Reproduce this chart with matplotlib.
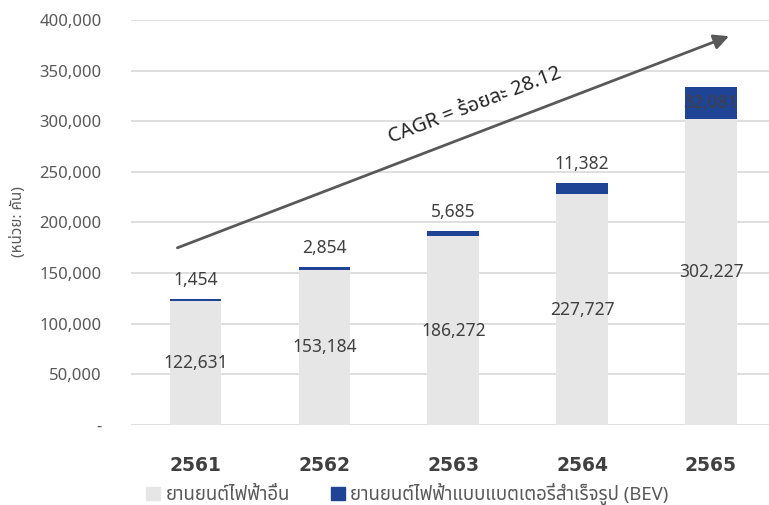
import matplotlib
matplotlib.use('Agg')
import matplotlib.pyplot as plt
from matplotlib import font_manager
from matplotlib.ticker import FuncFormatter

# ข้อมูล
years = ['2561', '2562', '2563', '2564', '2565']
other_ev = [122631, 153184, 186272, 227727, 302227]
bev = [1454, 2854, 5685, 11382, 32081]
y_ticks = [0, 50000, 100000, 150000, 200000, 250000, 300000, 350000, 400000]
cagr_text = 'CAGR = ร้อยละ 28.12'
legend_labels = ['ยานยนต์ไฟฟ้าอื่น', 'ยานยนต์ไฟฟ้าแบบแบตเตอรี่สำเร็จรูป (BEV)']
unit_label = '(หน่วย: คัน)'

# หาฟอนต์ไทยที่มีในเครื่อง
thai_candidates = ['Tahoma', 'Leelawadee UI', 'Noto Sans Thai', 'Noto Sans Thai UI',
                   'Sarabun', 'Loma', 'Garuda', 'Waree', 'Norasi', 'Kinnari', 'Laksaman']
thai_fonts = []
for name in thai_candidates:
    try:
        font_manager.findfont(name, fallback_to_default=False)
        thai_fonts.append(name)
    except Exception:
        pass
plt.rcParams['font.family'] = ['Noto Sans'] + thai_fonts + ['DejaVu Sans']

gray = '#E7E6E6'
blue = '#1F4496'
txt = '#595959'

fig = plt.figure(figsize=(7.69, 5.05), dpi=100)
ax = fig.add_axes([131 / 769, 80 / 505, 1 - 131 / 769, 405 / 505])

x = range(len(years))
ax.bar(x, other_ev, width=0.4, color=gray, zorder=2)
ax.bar(x, bev, width=0.4, bottom=other_ev, color=blue, zorder=2)

for i in x:
    ax.text(i, other_ev[i] / 2, f'{other_ev[i]:,}', ha='center', va='center',
            fontsize=12.5, color='#404040', zorder=3)
    top = other_ev[i] + bev[i]
    if i < len(years) - 1:
        ax.annotate(f'{bev[i]:,}', (i, top), xytext=(0, 19), textcoords='offset pixels',
                    ha='center', va='center', fontsize=12.5, color='#404040', zorder=3)
    else:
        ax.text(i, other_ev[i] + bev[i] / 2, f'{bev[i]:,}', ha='center', va='center',
                fontsize=12.5, color='#404040', zorder=3)

# ลูกศร CAGR
ax.annotate('', xy=(4.14, 384000), xytext=(-0.14, 175000),
            arrowprops=dict(arrowstyle='-|>,head_length=0.9,head_width=0.45',
                            color='#595959', lw=2, shrinkA=0, shrinkB=0), zorder=4)
ax.text(2.17, 316000, cagr_text, rotation=21, ha='center', va='center',
        fontsize=14.5, color='#262626', rotation_mode='anchor', zorder=4)

ax.set_xlim(-0.5, 4.45)
ax.set_ylim(0, 400000)
ax.set_yticks(y_ticks)
ax.yaxis.set_major_formatter(FuncFormatter(lambda v, p: '-' if v == 0 else f'{int(v):,}'))
ax.set_xticks(list(x))
ax.set_xticklabels(years, fontsize=13.5, fontweight='bold', color='#404040',
                   family=['DejaVu Sans'])
ax.tick_params(axis='y', length=0, labelsize=12, labelcolor=txt, pad=21)
ax.tick_params(axis='x', length=0, pad=22)
ax.grid(axis='y', color='#D9D9D9', lw=1.2, zorder=0)
for s in ax.spines.values():
    s.set_visible(False)

fig.text(18 / 769, 1 - 222 / 505, unit_label, rotation=90, ha='center', va='center',
         fontsize=11, color=txt)

# คำอธิบายสัญลักษณ์
handles = [plt.Rectangle((0, 0), 1, 1, color=gray), plt.Rectangle((0, 0), 1, 1, color=blue)]
fig.legend(handles, legend_labels, loc='center left', bbox_to_anchor=(146 / 769, 1 - 494 / 505),
           ncol=2, frameon=False, fontsize=13.4, handlelength=0.75, handleheight=0.75,
           handletextpad=0.3, columnspacing=2.2, labelcolor=txt, borderaxespad=0,
           borderpad=0)

fig.savefig('out.png', dpi=100)
